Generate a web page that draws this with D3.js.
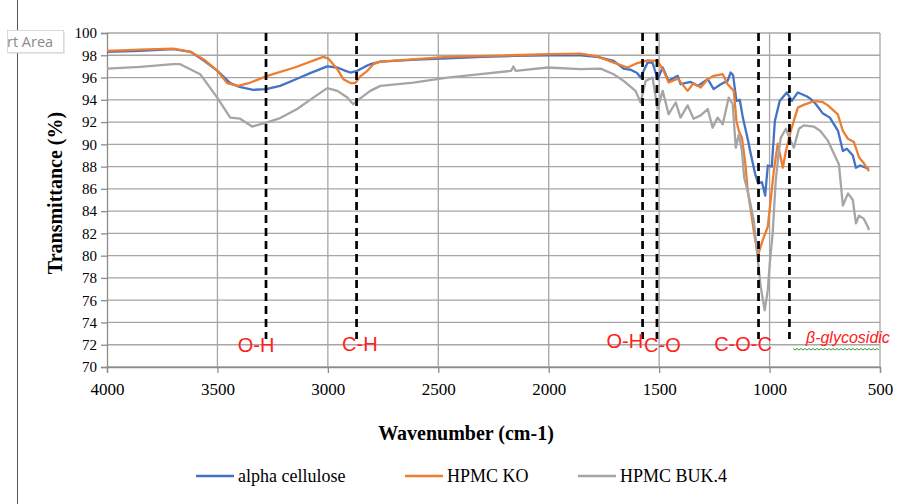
<!DOCTYPE html>
<html>
<head>
<meta charset="utf-8">
<script src="https://cdn.jsdelivr.net/npm/d3@7"></script>
<style>
  body { margin: 0; background: #fff; }
  svg { display: block; }
</style>
</head>
<body>
<div id="chart"></div>
<script>
// spectra: [wavenumber, transmittance %]
const alphaCellulose = [
  [4000,98.3],[3850,98.4],[3700,98.55],[3620,98.3],[3560,97.5],[3500,96.6],[3442,95.5],[3400,95.15],
  [3338,94.9],[3280,94.95],[3216,95.25],[3150,95.8],[3080,96.4],[3003,97.0],[2957,96.9],[2920,96.6],
  [2898,96.45],[2867,96.6],[2830,97.0],[2808,97.2],[2762,97.43],[2600,97.6],[2459,97.73],[2300,97.85],
  [2160,97.94],[2000,98.0],[1856,98.0],[1780,97.85],[1706,97.5],[1661,96.8],[1629,96.7],[1600,96.4],
  [1584,96.0],[1570,96.6],[1552,97.34],[1530,97.35],[1507,95.85],[1484,96.9],[1457,95.7],[1416,96.15],
  [1403,95.4],[1357,95.6],[1325,95.25],[1280,95.85],[1253,94.96],[1221,95.4],[1190,95.7],[1176,96.45],
  [1165,96.2],[1150,93.9],[1135,94.0],[1121,92.4],[1097,90.3],[1088,89.4],[1066,87.4],[1052,86.5],
  [1034,86.6],[1020,85.4],[1008,88.1],[990,88.0],[976,92.1],[954,93.9],[922,94.66],[899,93.9],
  [872,94.66],[830,94.3],[813,94.06],[790,93.6],[760,92.8],[727,92.4],[690,91.2],[668,89.4],
  [650,89.6],[623,89.0],[609,87.9],[590,88.1],[564,87.9],[550,87.8]
];
const hpmcKO = [
  [4000,98.4],[3850,98.5],[3700,98.6],[3620,98.3],[3560,97.6],[3500,96.6],[3456,95.5],[3406,95.25],
  [3350,95.55],[3275,96.15],[3150,96.9],[3021,97.85],[2998,97.7],[2957,96.75],[2930,95.85],[2898,95.5],
  [2876,95.5],[2853,96.1],[2821,96.6],[2794,97.2],[2762,97.43],[2600,97.65],[2459,97.85],[2160,98.0],
  [2000,98.1],[1856,98.15],[1780,97.9],[1706,97.34],[1643,96.9],[1598,97.3],[1552,97.55],[1507,97.5],
  [1480,96.6],[1457,95.55],[1416,95.9],[1371,94.8],[1344,95.5],[1312,95.1],[1280,95.85],[1253,96.15],
  [1212,96.3],[1190,95.4],[1162,94.8],[1150,92.1],[1139,91.2],[1125,90.6],[1110,88.3],[1099,85.85],
  [1085,84.1],[1072,82.3],[1053,80.0],[1031,81.4],[1008,82.6],[995,85.0],[981,87.6],[963,90.06],
  [940,87.9],[926,89.4],[904,91.2],[872,93.3],[845,93.55],[804,93.85],[781,93.85],[760,93.8],
  [736,93.5],[691,92.7],[668,91.2],[645,90.5],[618,90.2],[595,88.84],[573,88.3],[550,87.6]
];
const hpmcBUK4 = [
  [4000,96.8],[3850,96.95],[3700,97.2],[3669,97.2],[3578,96.3],[3501,94.2],[3442,92.4],[3397,92.3],
  [3343,91.6],[3275,91.97],[3216,92.36],[3139,93.17],[3066,94.2],[3003,95.05],[2957,94.8],[2912,94.2],
  [2885,93.6],[2862,94.0],[2808,94.8],[2762,95.25],[2613,95.55],[2459,96.0],[2309,96.3],[2170,96.6],
  [2160,97.0],[2150,96.6],[2005,96.9],[1856,96.75],[1765,96.8],[1706,96.3],[1661,95.7],[1607,94.8],
  [1584,93.76],[1561,95.7],[1530,96.0],[1507,93.17],[1484,94.8],[1457,92.7],[1425,93.76],[1403,92.4],
  [1371,93.5],[1344,92.3],[1312,92.6],[1280,93.17],[1258,91.5],[1235,92.4],[1212,91.8],[1185,94.2],
  [1167,93.6],[1153,89.7],[1139,90.9],[1125,89.4],[1115,87.0],[1100,85.85],[1085,84.5],[1072,83.2],
  [1053,79.6],[1040,77.2],[1022,75.1],[1008,76.9],[999,79.3],[986,82.0],[972,86.75],[958,89.4],
  [949,90.6],[926,91.4],[904,90.3],[890,89.7],[867,91.4],[845,91.7],[800,91.6],[770,91.2],
  [736,90.33],[709,89.17],[686,88.2],[668,84.5],[645,85.6],[623,85.0],[609,82.9],[595,83.6],
  [573,83.3],[555,82.6],[550,82.3]
];

const seriesNames = ["alpha cellulose", "HPMC KO", "HPMC BUK.4"];
const seriesColors = ["#4472C4", "#ED7D31", "#A5A5A5"];
const xTicks = [4000, 3500, 3000, 2500, 2000, 1500, 1000, 500];
const yTicks = d3.range(70, 101, 2);

// band markers (dashed lines) and their labels
const bandWn = [3280, 2870, 1575, 1510, 1050, 910];
const bandLabels = ["O-H", "C-H", "O-H", "C-O", "C-O-C", "β-glycosidic"];
const bandLabelWn = [3325, 2855, 1655, 1485, 1120, 835];
const bandLabelT = [71.8, 71.9, 72.2, 71.8, 71.95, 72.5];

const W = 910, H = 504;
const svg = d3.select("#chart").append("svg").attr("width", W).attr("height", H);

const x = d3.scaleLinear().domain([4000, 500]).range([107, 880]);
const y = d3.scaleLinear().domain([70, 100]).range([367, 33]);

// excel selection leftovers
svg.append("line").attr("x1", 17.5).attr("x2", 17.5).attr("y1", 0).attr("y2", H)
  .attr("stroke", "#555").attr("stroke-width", 1);
svg.append("rect").attr("x", 9).attr("y", 32).attr("width", 56).attr("height", 22)
  .attr("fill", "#bbb").attr("opacity", 0.35);
svg.append("rect").attr("x", 7.5).attr("y", 30.5).attr("width", 56).attr("height", 22)
  .attr("fill", "#fff").attr("stroke", "#d9d9d9");
svg.append("text").attr("x", 7).attr("y", 47).text("rt Area")
  .attr("font-family", "Open Sans, sans-serif").attr("font-size", 14.5).attr("fill", "#8a8a8a");

// grid
svg.append("g").selectAll("line").data(yTicks).enter().append("line")
  .attr("x1", 107).attr("x2", 880)
  .attr("y1", d => y(d)).attr("y2", d => y(d))
  .attr("stroke", "#a6a6a6").attr("stroke-width", 1.3);
svg.append("g").selectAll("line").data(xTicks.slice(1)).enter().append("line")
  .attr("x1", d => x(d)).attr("x2", d => x(d))
  .attr("y1", y(100)).attr("y2", y(70))
  .attr("stroke", "#a6a6a6").attr("stroke-width", 1.3);

// axes
const yAxis = svg.append("g").attr("transform", "translate(107,0)")
  .call(d3.axisLeft(y).tickValues(yTicks).tickSize(6).tickPadding(4));
const xAxis = svg.append("g").attr("transform", "translate(0,367)")
  .call(d3.axisBottom(x).tickValues(xTicks).tickSize(6).tickPadding(10).tickFormat(d3.format("d")));
[yAxis, xAxis].forEach(g => {
  g.select(".domain").attr("stroke", "#8c8c8c").attr("stroke-width", 1.3);
  g.selectAll(".tick line").attr("stroke", "#8c8c8c").attr("stroke-width", 1.3);
  g.selectAll("text").attr("font-family", "Liberation Serif, serif").attr("fill", "#000");
});
yAxis.selectAll("text").attr("font-size", 15);
xAxis.selectAll("text").attr("font-size", 17);

// axis titles
svg.append("text").attr("transform", "translate(62,193) rotate(-90)")
  .attr("text-anchor", "middle").attr("font-family", "Liberation Serif, serif")
  .attr("font-weight", "bold").attr("font-size", 20).text("Transmittance  (%)");
svg.append("text").attr("x", 466).attr("y", 440)
  .attr("text-anchor", "middle").attr("font-family", "Liberation Serif, serif")
  .attr("font-weight", "bold").attr("font-size", 20).text("Wavenumber  (cm-1)");

// spectra
const line = d3.line().x(d => x(d[0])).y(d => y(d[1]));
[alphaCellulose, hpmcKO, hpmcBUK4].forEach((s, i) => {
  svg.append("path").datum(s).attr("d", line)
    .attr("fill", "none").attr("stroke", seriesColors[i])
    .attr("stroke-width", 2.3).attr("stroke-linejoin", "round");
});

// dashed band lines
svg.append("g").selectAll("line").data(bandWn).enter().append("line")
  .attr("x1", d => x(d)).attr("x2", d => x(d))
  .attr("y1", 33).attr("y2", 339)
  .attr("stroke", "#000").attr("stroke-width", 2.7).attr("stroke-dasharray", "8,5");

// band labels
svg.append("g").selectAll("text").data(bandLabels).enter().append("text")
  .attr("x", (d, i) => x(bandLabelWn[i]))
  .attr("y", (d, i) => y(bandLabelT[i]))
  .attr("text-anchor", (d, i) => i === 5 ? "start" : "middle")
  .attr("dominant-baseline", "middle")
  .attr("font-family", "Liberation Sans, sans-serif")
  .attr("font-size", (d, i) => i === 5 ? 16 : 20)
  .attr("font-style", (d, i) => i === 5 ? "italic" : "normal")
  .attr("fill", "#ff2020")
  .text(d => d);
// spell-check squiggle under the last label
const sq = d3.range(0, 88, 2).map((d, i) => [793 + d, 349 + (i % 2 ? 1 : -0.5)]);
svg.append("path").attr("d", d3.line()(sq)).attr("fill", "none")
  .attr("stroke", "#3a9a3a").attr("stroke-width", 1);

// legend
const leg = svg.append("g");
const legX = [196, 405, 578];
seriesNames.forEach((n, i) => {
  leg.append("line").attr("x1", legX[i]).attr("x2", legX[i] + 38)
    .attr("y1", 476).attr("y2", 476)
    .attr("stroke", seriesColors[i]).attr("stroke-width", 2.3);
  leg.append("text").attr("x", legX[i] + 42).attr("y", 482)
    .attr("font-family", "Liberation Serif, serif").attr("font-size", 18)
    .text(n);
});
</script>
</body>
</html>
